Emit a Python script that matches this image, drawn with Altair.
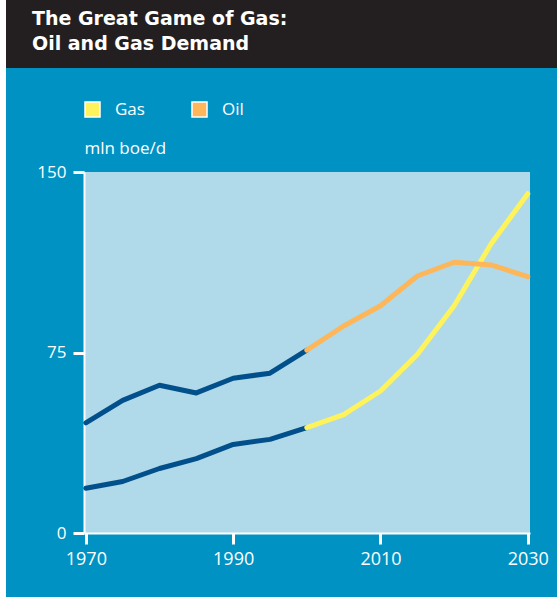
import altair as alt
import pandas as pd

# ---- data ----
hist_years = [1970, 1975, 1980, 1985, 1990, 1995, 2000]
oil_hist = [45.8, 55.1, 61.4, 58.2, 64.3, 66.4, 76.0]
gas_hist = [18.6, 21.4, 26.8, 30.9, 36.8, 38.9, 43.8]

proj_years = [2000, 2005, 2010, 2015, 2020, 2025, 2030]
oil_proj = [76.0, 86.0, 94.4, 106.8, 112.5, 111.4, 106.5]
gas_proj = [43.8, 49.2, 59.0, 74.2, 94.4, 120.1, 141.0]

series_names = ["Gas", "Oil"]
x_ticks = [1970, 1990, 2010, 2030]
y_ticks = [0, 75, 150]
title_lines = ["The Great Game of Gas:", "Oil and Gas Demand"]
y_title = "mln boe/d"

# ---- styling ----
NAVY = "#02508B"
YELLOW = "#FFF35C"
ORANGE = "#FDB75A"
PLOT_BG = "#B0D9EA"
OUTER_BG = "#0092C3"
HEADER = "#231F20"
FONT = "Open Sans"

rows = []
for y, v in zip(hist_years, gas_hist):
    rows.append({"year": y, "value": v, "series": "Gas", "seg": "Gas hist"})
for y, v in zip(hist_years, oil_hist):
    rows.append({"year": y, "value": v, "series": "Oil", "seg": "Oil hist"})
for y, v in zip(proj_years, gas_proj):
    rows.append({"year": y, "value": v, "series": "Gas", "seg": "Gas proj"})
for y, v in zip(proj_years, oil_proj):
    rows.append({"year": y, "value": v, "series": "Oil", "seg": "Oil proj"})
df = pd.DataFrame(rows)
one = pd.DataFrame({"k": [0]})

x_enc = alt.X(
    "year:Q",
    scale=alt.Scale(domain=[1969.75, 2030.3], nice=False, zero=False),
    axis=alt.Axis(
        values=x_ticks, format="d", title=None, grid=False,
        labelColor="white", labelFont=FONT, labelFontSize=18,
        labelPadding=6, tickColor="white", tickWidth=3, tickSize=11,
        domainColor="white", domainWidth=2, labelFlush=False,
    ),
)
y_enc = alt.Y(
    "value:Q",
    scale=alt.Scale(domain=[0, 150], nice=False),
    axis=alt.Axis(
        values=y_ticks, title=y_title, grid=False,
        labelColor="white", labelFont=FONT, labelFontSize=17,
        labelPadding=7, tickColor="white", tickWidth=3, tickSize=11,
        domainColor="white", domainWidth=2,
        titleAngle=0, titleAlign="left", titleBaseline="alphabetic",
        titleX=0, titleY=-19, titleColor="white", titleFont=FONT,
        titleFontSize=17, titleFontWeight="normal", labelFlush=False,
    ),
)

lines = alt.Chart(df).mark_line(strokeWidth=5, strokeCap="round", strokeJoin="round").encode(
    x=x_enc,
    y=y_enc,
    detail="seg:N",
    stroke=alt.Stroke(
        "seg:N",
        scale=alt.Scale(domain=["Gas hist", "Oil hist", "Gas proj", "Oil proj"],
                        range=[NAVY, NAVY, YELLOW, ORANGE]),
        legend=None,
    ),
)

legend_layer = alt.Chart(df).mark_square(
    stroke="white", strokeWidth=1.5, filled=True, opacity=1
).encode(
    x="year:Q",
    y="value:Q",
    fill=alt.Fill(
        "series:N",
        scale=alt.Scale(domain=series_names, range=[YELLOW, ORANGE]),
        legend=alt.Legend(
            title=None, orient="none", legendX=0, legendY=-71,
            direction="horizontal", symbolType="square", symbolSize=225,
            symbolStrokeColor="white", symbolStrokeWidth=1.5, symbolOpacity=1,
            labelColor="white", labelFont=FONT, labelFontSize=17,
            labelOffset=14, columnPadding=44, padding=0,
        ),
    ),
).transform_filter("false")

white_strip = alt.Chart(one).mark_rect(color="white").encode(
    x=alt.value(-84), x2=alt.value(-78), y=alt.value(-172), y2=alt.value(425)
)
header = alt.Chart(one).mark_rect(color=HEADER).encode(
    x=alt.value(-78), x2=alt.value(473), y=alt.value(-172), y2=alt.value(-104)
)
t1 = alt.Chart(one).mark_text(
    text=title_lines[0], font="DejaVu Sans", fontWeight="bold", fontSize=19,
    color="white", align="left", baseline="alphabetic",
).encode(x=alt.value(-52), y=alt.value(-147))
t2 = alt.Chart(one).mark_text(
    text=title_lines[1], font="DejaVu Sans", fontWeight="bold", fontSize=19,
    color="white", align="left", baseline="alphabetic",
).encode(x=alt.value(-52), y=alt.value(-122))

chart = alt.layer(white_strip, header, t1, t2, legend_layer, lines).properties(
    width=446,
    height=361,
    background=OUTER_BG,
    padding={"left": 84, "top": 172, "right": 27, "bottom": 64},
    autosize=alt.AutoSizeParams(type="none"),
).configure_view(fill=PLOT_BG, stroke=None)

chart.save("out.html", embed_options={"renderer": "svg", "actions": False})
